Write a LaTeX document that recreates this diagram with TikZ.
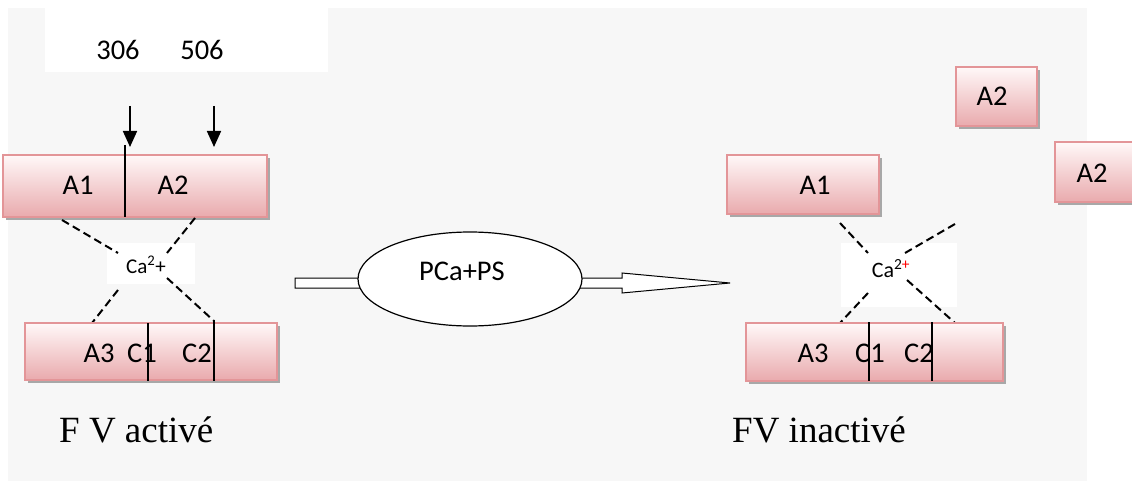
\documentclass[tikz,border=0pt]{standalone}
\usepackage{fontspec}
\setmainfont{Liberation Serif}
\newfontfamily\calfont{Carlito}
\usetikzlibrary{arrows.meta,shadows,shapes.geometric}
\definecolor{bggray}{HTML}{F7F7F7}
\definecolor{boxtop}{HTML}{FFF8F8}
\definecolor{boxbot}{HTML}{E9AAAD}
\definecolor{boxedge}{HTML}{E39598}
\definecolor{shadowgray}{HTML}{A8A8A8}
\begin{document}
\begin{tikzpicture}[x=1pt,y=-1pt,
  pbox/.style={draw=boxedge, line width=1.2pt, top color=boxtop, bottom color=boxbot,
    inner sep=0pt, outer sep=0pt,
    drop shadow={shadow xshift=3pt, shadow yshift=-3pt, fill=shadowgray, opacity=1}},
  lab/.style={font=\calfont\fontsize{28.5}{28.5}\selectfont, inner sep=0pt, anchor=base},
  calab/.style={font=\calfont\fontsize{21}{21}\selectfont, inner sep=0pt, anchor=base},
  captext/.style={font=\fontsize{37}{37}\selectfont, inner sep=0pt, anchor=base west},
  divider/.style={line width=1.4pt, black},
  ddash/.style={line width=2pt, dash pattern=on 8pt off 4.5pt},
  downarrow/.style={line width=1.7pt, -{Triangle[length=16pt,width=14pt]}}]
\useasboundingbox (0,0) rectangle (1132,481);
\fill[white] (0,0) rectangle (1132,481);
\fill[bggray] (8,8) rectangle (1087,481);
\fill[white] (45,8) rectangle (328,72);

% ---------- left: F V active ----------
\node[lab] (n306) at (118,60) {306};
\node[lab] (n506) at (202,60) {506};
\coordinate (a1s) at (130,106);
\coordinate (a1e) at (130,147);
\coordinate (a2s) at (214,106);
\coordinate (a2e) at (214,147);
\draw[downarrow] (a1s) -- (a1e);
\draw[downarrow] (a2s) -- (a2e);

\node[pbox, minimum width=264pt, minimum height=62pt] (L1) at (135,186) {};
\draw[divider] (125,145) -- (125,217);
\node[lab] (LA1) at (78,195) {A1};
\node[lab] (LA2) at (173,195) {A2};

\fill[white] (107,243) rectangle (195,284);
\draw[ddash] (62,220) -- (118,253);
\draw[ddash] (195,218) -- (167,253);
\draw[ddash] (118,290) -- (92,323);
\draw[ddash] (167,278) -- (214,321);
\node[calab] (Lca) at (146,273) {Ca\textsuperscript{2}+};

\node[pbox, minimum width=252pt, minimum height=57pt] (L2) at (151,351.5) {};
\draw[divider] (148,323) -- (148,381);
\draw[divider] (214,320) -- (214,381);
\node[lab] (LA3) at (99,362) {A3};
\node[lab] (LC1) at (142,362) {C1};
\node[lab] (LC2) at (197,362) {C2};

\node[captext] (capL) at (59,442) {F V activé};

% ---------- middle ----------
\draw[fill=white, line width=1pt] (295,278) -- (622,278) -- (622,273) -- (730,283)
  -- (622,293) -- (622,288) -- (295,288) -- cycle;
\node[ellipse, draw, fill=white, line width=1.2pt, minimum width=224pt,
  minimum height=94pt, inner sep=0pt] (ell) at (470,279) {};
\node[lab] (pca) at (462,280) {PCa+PS};

% ---------- right: FV inactive ----------
\node[pbox, minimum width=152pt, minimum height=59pt] (R1) at (803,184.5) {};
\node[lab] (RA1) at (815,195) {A1};
\node[pbox, minimum width=81pt, minimum height=59pt] (R2) at (996.5,96.5) {};
\node[lab] (RA2) at (992,106) {A2};
\node[pbox, minimum width=110pt, minimum height=60pt] (R3) at (1110,172) {};
\node[lab] (RA2b) at (1092,183) {A2};

\fill[white] (841,243) rectangle (957,307);
\draw[ddash] (840,223) -- (868,253);
\draw[ddash] (955,224) -- (905,253);
\draw[ddash] (868,293) -- (840,323);
\draw[ddash] (907,280) -- (955,323);
\node[calab, font=\calfont\fontsize{22}{22}\selectfont] (Rca) at (891,277)
  {Ca\textsuperscript{2\textcolor{red}{+}}};

\node[pbox, minimum width=257pt, minimum height=58pt] (R4) at (874.5,352) {};
\draw[divider] (869,322) -- (869,381);
\draw[divider] (932,322) -- (932,381);
\node[lab] (RA3) at (813,362) {A3};
\node[lab] (RC1) at (870,362) {C1};
\node[lab] (RC2) at (919,362) {C2};

\node[captext] (capR) at (732,442) {FV inactivé};
\end{tikzpicture}
\end{document}
